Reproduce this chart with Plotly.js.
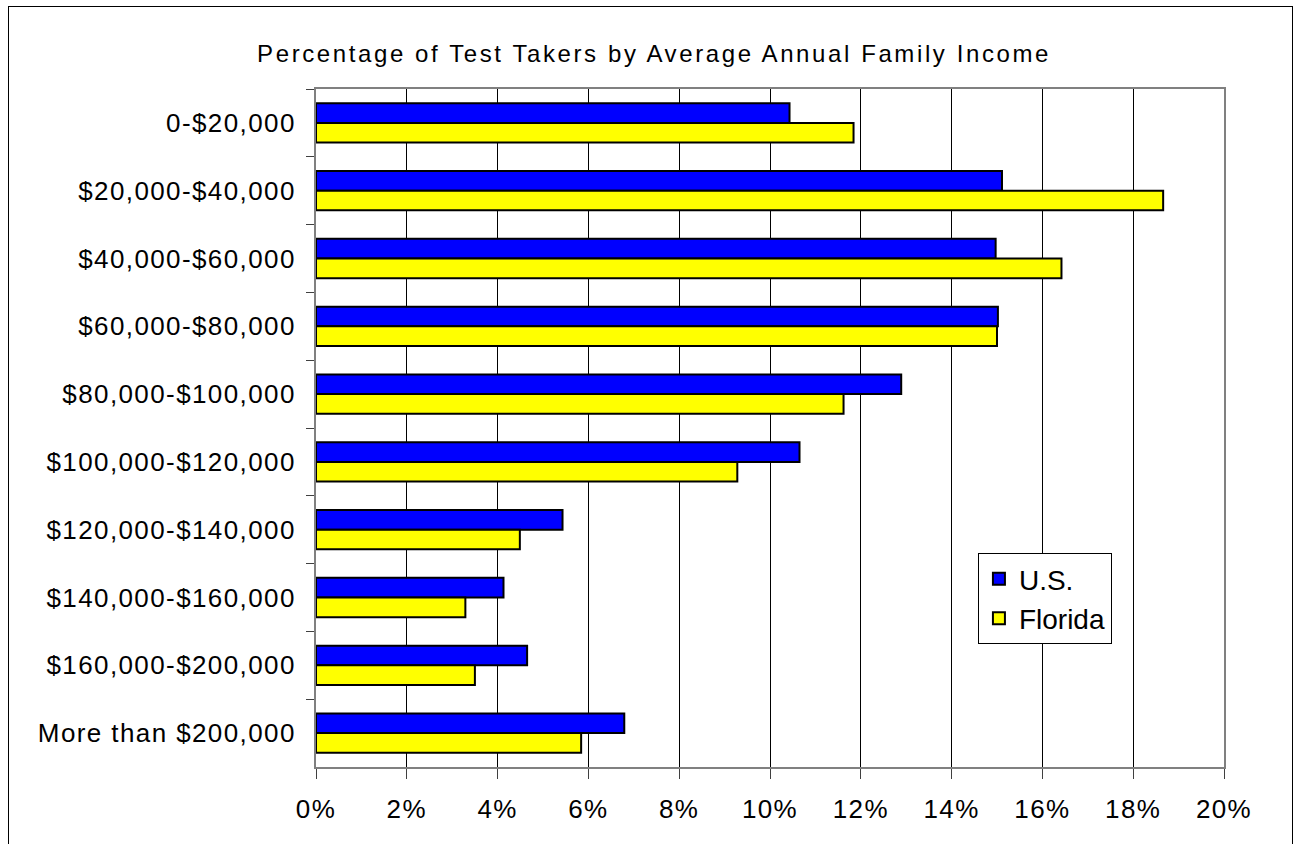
<!DOCTYPE html>
<html>
<head>
<meta charset="utf-8">
<script src="https://cdn.plot.ly/plotly-3.0.1.min.js"></script>
<style>
  html, body { margin: 0; padding: 0; background: #fff; }
  #chart { width: 1299px; height: 844px; position: absolute; left: 0; top: 0; }
  #frame { position: absolute; left: 8px; top: 6px; width: 1283px; height: 845px; border: 1px solid #000; pointer-events: none; }
  #chart text { letter-spacing: 1.4px; }
  #chart .gtitle { letter-spacing: 2.6px; }
  #chart .legendtext { letter-spacing: 0px; }
</style>
</head>
<body>
<div id="chart"></div>
<div id="frame"></div>
<script>
const categories = [
  "0-$20,000", "$20,000-$40,000", "$40,000-$60,000", "$60,000-$80,000",
  "$80,000-$100,000", "$100,000-$120,000", "$120,000-$140,000",
  "$140,000-$160,000", "$160,000-$200,000", "More than $200,000"
];
const usValues      = [10.43, 15.11, 14.97, 15.02, 12.89, 10.65, 5.43, 4.13, 4.65, 6.79];
const floridaValues = [11.84, 18.66, 16.42, 15.00, 11.62, 9.28, 4.49, 3.29, 3.50, 5.84];
const xTickVals  = [0, 2, 4, 6, 8, 10, 12, 14, 16, 18, 20];
const xTickText  = ["0%", "2%", "4%", "6%", "8%", "10%", "12%", "14%", "16%", "18%", "20%"];

const FONT = "Liberation Sans, Arial, sans-serif";

const traces = [
  {
    type: "bar", orientation: "h", name: "U.S.",
    y: categories, x: usValues,
    marker: { color: "#0000FF", line: { color: "#000000", width: 2 } },
    hoverinfo: "x+y"
  },
  {
    type: "bar", orientation: "h", name: "Florida",
    y: categories, x: floridaValues,
    marker: { color: "#FFFF00", line: { color: "#000000", width: 2 } },
    hoverinfo: "x+y"
  }
];

const layout = {
  width: 1299, height: 844,
  paper_bgcolor: "#ffffff", plot_bgcolor: "#ffffff",
  margin: { l: 316, r: 75, t: 89, b: 77, pad: 0 },
  barmode: "group", bargap: 0.42, bargroupgap: 0,
  font: { family: FONT, size: 26, color: "#000" },
  title: {
    text: "Percentage of Test Takers by Average Annual Family Income",
    font: { family: FONT, size: 24, color: "#000" },
    x: 0.5035, xref: "container", xanchor: "center",
    y: 0.936, yref: "container", yanchor: "middle"
  },
  xaxis: {
    range: [0, 20], tickvals: xTickVals, ticktext: xTickText,
    showgrid: true, gridcolor: "#000", gridwidth: 1,
    zeroline: false,
    showline: true, linecolor: "#808080", linewidth: 2, mirror: true,
    ticks: "outside", ticklen: 10, tickcolor: "#404040", tickwidth: 1,
    tickfont: { family: FONT, size: 26, color: "#000" },
    ticklabelstandoff: 8,
    fixedrange: true
  },
  yaxis: {
    type: "category", autorange: "reversed",
    showgrid: false, zeroline: false,
    showline: true, linecolor: "#808080", linewidth: 2, mirror: true,
    ticks: "outside", ticklen: 8, tickcolor: "#404040", tickwidth: 1,
    tickson: "boundaries",
    tickfont: { family: FONT, size: 26, color: "#000" },
    ticklabelstandoff: 13,
    fixedrange: true
  },
  showlegend: true,
  legend: {
    x: 0.729, y: 0.3155, xanchor: "left", yanchor: "top",
    bgcolor: "#ffffff", bordercolor: "#000", borderwidth: 1,
    font: { family: FONT, size: 28, color: "#000" },
    itemwidth: 30, tracegroupgap: 0
  }
};

Plotly.newPlot("chart", traces, layout, { displayModeBar: false, staticPlot: true });
</script>
</body>
</html>
